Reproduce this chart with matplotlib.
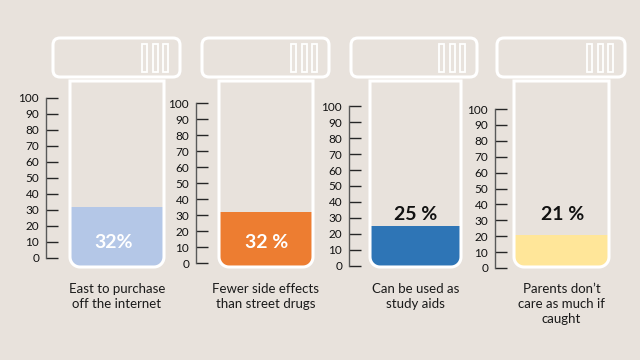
import numpy as np
import matplotlib
matplotlib.use("Agg")
import matplotlib.pyplot as plt
from matplotlib.path import Path
from matplotlib.patches import PathPatch, FancyBboxPatch, Rectangle

# --- data ---
categories = [
    "East to purchase\noff the internet",
    "Fewer side effects\nthan street drugs",
    "Can be used as\nstudy aids",
    "Parents don\u2019t\ncare as much if\ncaught",
]
values = [32, 32, 25, 21]
value_labels = ["32%", "32 %", "25 %", "21 %"]
fill_colors = ["#B4C7E7", "#ED7D31", "#2E75B6", "#FFE699"]
label_colors = ["white", "white", "#111111", "#111111"]
scale_ticks = list(range(0, 101, 10))

# --- layout (pixels, y from top) ---
W, H = 640, 360
BG = "#E8E2DC"
spine_x = [46, 196, 349, 495]
y100 = [98, 103, 106, 109]
y0 = [258, 263, 266, 268]
tube_left = [70, 219, 370, 514]
tube_right = [164, 313, 461, 609]
tube_top, tube_bot, tube_r = 81, 267, 10
cap_left = [53, 202, 351, 497]
cap_right = [180, 329, 477, 625]
cap_top, cap_bot = 38, 77
pct_pos = [(114, 243), (267, 243), (416, 214), (563, 214)]

plt.rcParams["font.family"] = ["Lato", "DejaVu Sans"]

fig = plt.figure(figsize=(W / 100, H / 100), dpi=100)
fig.patch.set_facecolor(BG)

# overlay axes in pixel units for the vial drawings and texts
bg = fig.add_axes([0, 0, 1, 1], zorder=2)
bg.set_xlim(0, W)
bg.set_ylim(H, 0)
bg.set_facecolor("none")
bg.axis("off")


def tube_path(x0, x1, top, bot, r):
    t = np.linspace(0, np.pi / 2, 12)
    left_arc = np.column_stack([x0 + r - r * np.cos(t), bot - r + r * np.sin(t)])
    right_arc = np.column_stack([x1 - r + r * np.sin(t), bot - r + r * np.cos(t)])
    verts = np.vstack([[x0, top], left_arc, right_arc, [x1, top], [x0, top]])
    codes = [Path.MOVETO] + [Path.LINETO] * (len(verts) - 2) + [Path.CLOSEPOLY]
    return Path(verts, codes)


for i in range(len(values)):
    # tube outline
    tube = PathPatch(tube_path(tube_left[i], tube_right[i], tube_top, tube_bot, tube_r),
                     facecolor="none", edgecolor="white", lw=2.2)
    bg.add_patch(tube)

    # cap
    bg.add_patch(FancyBboxPatch((cap_left[i], cap_top), cap_right[i] - cap_left[i],
                                cap_bot - cap_top, boxstyle="round,pad=0,rounding_size=7",
                                facecolor="none", edgecolor="white", lw=2.2))
    for k in range(3):
        sx = cap_right[i] - 17 - k * 10.5
        bg.add_patch(Rectangle((sx, cap_top + 6), 5, cap_bot - cap_top - 11,
                               facecolor="none", edgecolor="white", lw=1.3))

    # scale axes for this vial
    width_px = tube_right[i] + 4 - spine_x[i]
    ax = fig.add_axes([spine_x[i] / W, (H - y0[i]) / H, width_px / W, (y0[i] - y100[i]) / H],
                      zorder=1)
    ax.set_facecolor("none")
    ax.set_xlim(spine_x[i], spine_x[i] + width_px)
    ax.set_ylim(0, 100)
    for s in ["top", "right", "bottom"]:
        ax.spines[s].set_visible(False)
    ax.spines["left"].set_color("#595959")
    ax.spines["left"].set_linewidth(1.0)
    ax.set_xticks([])
    ax.set_yticks(scale_ticks)
    ax.tick_params(axis="y", direction="in", length=8.5, width=1.0, color="#262626",
                   labelsize=8.5, labelcolor="#111111", pad=5)

    # liquid level, clipped to the vial shape
    cx = (tube_left[i] + tube_right[i]) / 2
    bars = ax.bar(cx, values[i] + 20, bottom=-20, width=tube_right[i] - tube_left[i] + 2,
                  color=fill_colors[i], edgecolor="none")
    for b in bars:
        b.set_clip_path(tube)
        b.set_clip_box(None)

    # value label
    bg.text(pct_pos[i][0], pct_pos[i][1], value_labels[i], ha="center", va="center",
            fontsize=14, fontweight="bold", color=label_colors[i])

    # category label
    bg.text(cx, 283, categories[i], ha="center", va="top", fontsize=9.5,
            color="#1a1a1a", linespacing=1.3)

fig.savefig("out.png", dpi=100, facecolor=BG)
